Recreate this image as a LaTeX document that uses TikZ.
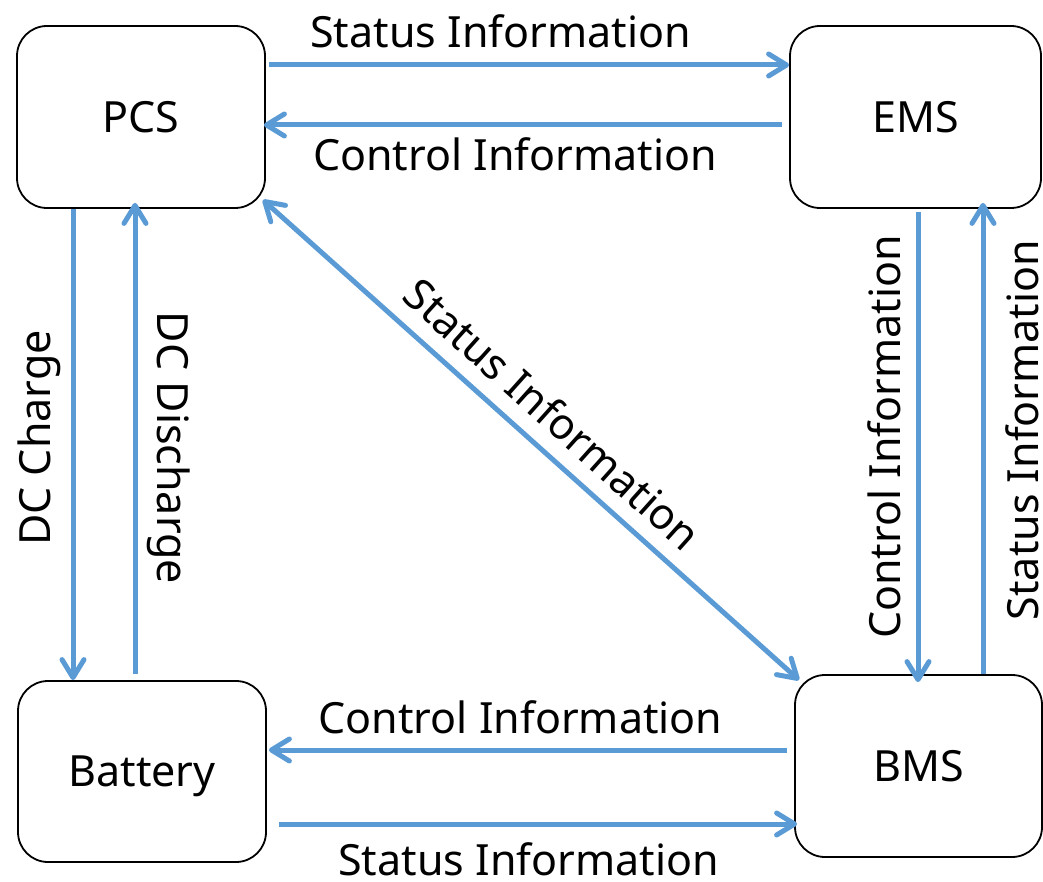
\documentclass[tikz,border=0pt]{standalone}
\usepackage{fontspec}
\setmainfont{Noto Sans}
\usetikzlibrary{arrows.meta}
\definecolor{flow}{RGB}{91,155,213}
\begin{document}
\begin{tikzpicture}[x=1pt,y=-1pt,
  barb/.tip={Straight Barb[length=18pt,width=22pt,round]},
  box/.style={draw=black, line width=1.8pt, rounded corners=30pt, minimum height=182pt,
    inner sep=0pt, text depth=0pt, font=\fontsize{43}{50}\selectfont},
  lbl/.style={anchor=base, inner sep=0pt, font=\fontsize{43}{50}\selectfont},
  flow/.style={draw=flow, line width=5pt, -barb},
  both/.style={draw=flow, line width=5pt, barb-barb}]
\useasboundingbox (0,0) rectangle (1043,882);
% boxes
\node[box, minimum width=248pt] (pcs) at (141,117) {PCS};
\node[box, minimum width=251pt] (ems) at (915.5,117) {EMS};
\node[box, minimum width=248pt, minimum height=181pt] (bat) at (142,771.5) {Battery};
\node[box, minimum width=247pt] (bms) at (918.5,766) {BMS};
% connectors
\draw[flow] ([xshift=3pt,yshift=52pt]pcs.east) -- ([yshift=52pt]ems.west);
\draw[flow] ([xshift=-7pt,yshift=-8pt]ems.west) -- ([xshift=-2pt,yshift=-8pt]pcs.east);
\draw[flow] ([xshift=-68pt]pcs.south) -- ([xshift=-69pt]bat.north);
\draw[flow] ([xshift=-7pt,yshift=6pt]bat.north) -- ([xshift=-6pt,yshift=6pt]pcs.south);
\draw[both] ([xshift=-3pt,yshift=9pt]pcs.south east) -- ([xshift=5pt,yshift=-6pt]bms.north west);
\draw[flow] ([xshift=2.5pt,yshift=-3pt]ems.south) -- ([xshift=-0.5pt,yshift=-8pt]bms.north);
\draw[flow] ([xshift=64.5pt]bms.north) -- ([xshift=67.5pt,yshift=6pt]ems.south);
\draw[flow] ([xshift=-7pt,yshift=16pt]bms.west) -- ([xshift=2pt,yshift=21.5pt]bat.east);
\draw[flow] ([xshift=12pt,yshift=-52.5pt]bat.east) -- ([xshift=3pt,yshift=-58pt]bms.west);
% labels
\node[lbl] (l1) at (500.5,48) {Status Information};
\node[lbl] (l2) at (515,171) {Control Information};
\node[lbl] (l3) at (520.5,733) {Control Information};
\node[lbl] (l4) at (528.5,875) {Status Information};
\node[lbl, rotate=90] (l5) at (50,438) {DC Charge};
\node[lbl, rotate=-90] (l6) at (157,448) {DC Discharge};
\node[lbl, rotate=90] (l7) at (900,437) {Control Information};
\node[lbl, rotate=90] (l8) at (1038,430) {Status Information};
\node[lbl, rotate=-41.9] (l9) at (542,426) {Status Information};
\end{tikzpicture}
\end{document}
